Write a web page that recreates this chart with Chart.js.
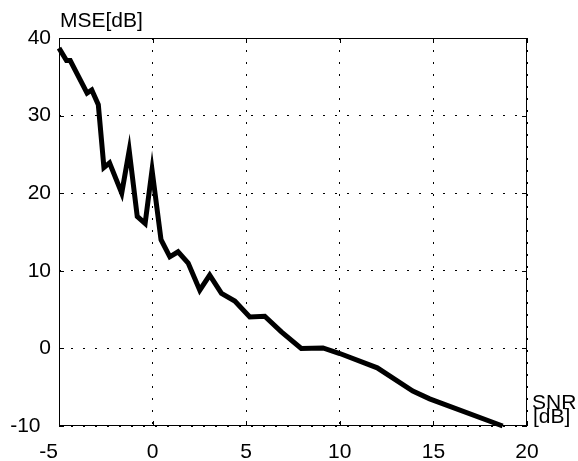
<!DOCTYPE html>
<html>
<head>
<meta charset="utf-8">
<script src="https://cdn.jsdelivr.net/npm/chart.js@4"></script>
<style>
  html, body { margin: 0; padding: 0; background: #fff; }
  #wrap { width: 578px; height: 461px; }
</style>
</head>
<body>
<div id="wrap"><canvas id="mseChart" width="578" height="461"></canvas></div>
<script>
// values
const snr = [-5, -4.6, -4.4, -3.5, -3.25, -2.9, -2.6, -2.3, -1.65, -1.25, -0.82, -0.4, -0.03, 0.45, 0.92, 1.36, 1.9, 2.52, 3.05, 3.68, 4.39, 5.19, 5.99, 6.88, 7.94, 9.1, 10, 12, 13.9, 14.8, 18.7];
const mse = [38.7, 37.1, 37.1, 32.9, 33.3, 31.4, 23.3, 23.9, 20.0, 25.5, 17.0, 16.1, 23.0, 14.0, 11.8, 12.45, 11.0, 7.5, 9.45, 7.1, 6.1, 4.06, 4.15, 2.13, 0.0, 0.06, -0.66, -2.5, -5.5, -6.5, -10.0];
const xTicks = [-5, 0, 5, 10, 15, 20];
const yTicks = [-10, 0, 10, 20, 30, 40];

const FONT = 'Liberation Sans, Arial, Helvetica, sans-serif';

// box around the plot, inward ticks, axis labels
const framePlugin = {
    id: 'frame',
    afterDraw(chart) {
        const ctx = chart.ctx;
        const a = chart.chartArea;
        const xs = chart.scales.x, ys = chart.scales.y;
        ctx.save();
        ctx.strokeStyle = '#000';
        ctx.lineWidth = 1;
        ctx.strokeRect(a.left + 0.5, a.top + 0.5, a.right - a.left - 1, a.bottom - a.top - 1);
        ctx.beginPath();
        xTicks.forEach(v => {
            const px = Math.round(xs.getPixelForValue(v)) + 0.5;
            ctx.moveTo(px, a.bottom); ctx.lineTo(px, a.bottom - 5);
            ctx.moveTo(px, a.top); ctx.lineTo(px, a.top + 5);
        });
        yTicks.forEach(v => {
            const py = Math.round(ys.getPixelForValue(v)) + 0.5;
            ctx.moveTo(a.left, py); ctx.lineTo(a.left + 5, py);
            ctx.moveTo(a.right, py); ctx.lineTo(a.right - 5, py);
        });
        ctx.stroke();

        ctx.fillStyle = '#000';
        ctx.font = '21px ' + FONT;
        ctx.textAlign = 'left';
        ctx.textBaseline = 'alphabetic';
        ctx.fillText('MSE[dB]', 60, 27);
        ctx.fillText('SNR', 532, 409);
        ctx.fillText('[dB]', 533, 423);
        ctx.restore();
    }
};

new Chart(document.getElementById('mseChart'), {
    type: 'line',
    data: {
        datasets: [{
            data: snr.map((x, i) => ({ x: x, y: mse[i] })),
            borderColor: '#000',
            borderWidth: 5,
            pointRadius: 0,
            tension: 0,
            fill: false,
            clip: false
        }]
    },
    options: {
        responsive: false,
        animation: false,
        layout: { padding: { top: 38, right: 51, left: 0, bottom: 0 } },
        plugins: { legend: { display: false }, tooltip: { enabled: false } },
        scales: {
            x: {
                type: 'linear',
                min: -5, max: 20,
                afterFit(scale) { scale.height = 35; },
                afterBuildTicks(scale) { scale.ticks = xTicks.map(v => ({ value: v })); },
                grid: { color: '#000', lineWidth: 1, drawTicks: false },
                border: { display: false, dash: [2, 10] },
                ticks: {
                    color: '#000', font: { family: FONT, size: 21 }, padding: 14, maxRotation: 0,
                    // corner label sits left of the axis, as in the picture
                    callback: v => v === -5 ? v + '\u2002\u2002' : String(v)
                }
            },
            y: {
                min: -10, max: 40,
                afterFit(scale) { scale.width = 59; },
                afterBuildTicks(scale) { scale.ticks = yTicks.map(v => ({ value: v })); },
                grid: { color: '#000', lineWidth: 1, drawTicks: false },
                border: { display: false, dash: [2, 10] },
                ticks: {
                    color: '#000', font: { family: FONT, size: 21 }, padding: 8,
                    callback: v => v === -10 ? v + '\u2002' : String(v)
                }
            }
        }
    },
    plugins: [framePlugin]
});
</script>
</body>
</html>
